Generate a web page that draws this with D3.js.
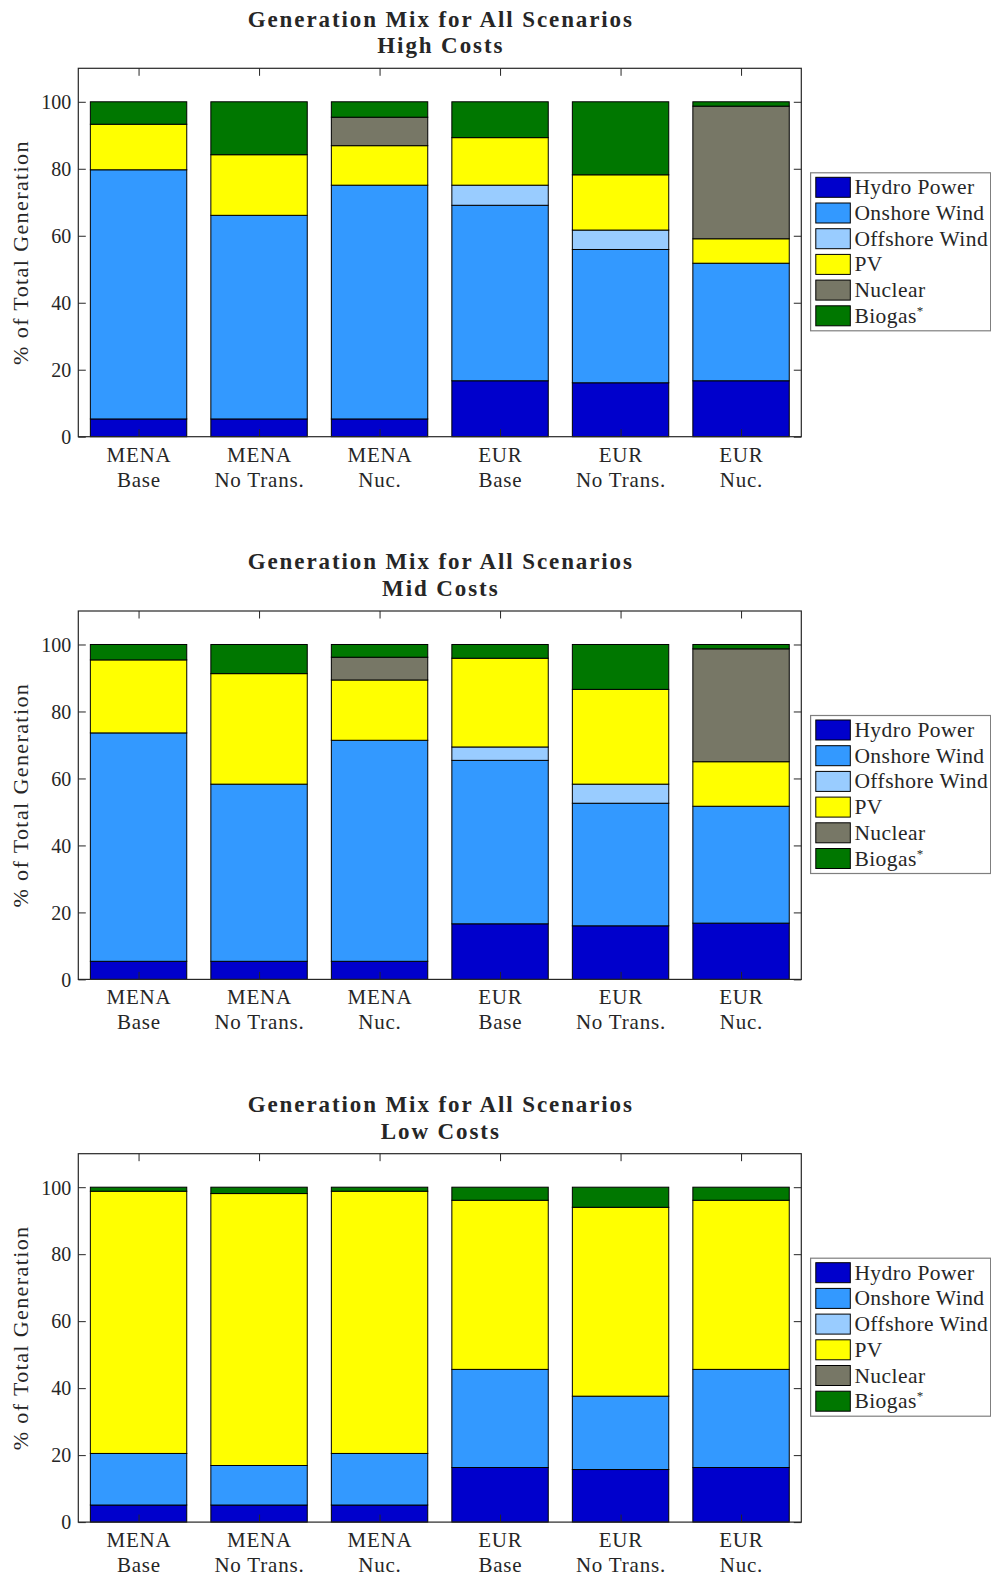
<!DOCTYPE html>
<html><head><meta charset="utf-8">
<script src="https://cdn.jsdelivr.net/npm/d3@7"></script>
<style>body{margin:0;background:#fff}svg{display:block}text{font-family:"Liberation Serif","Times New Roman",serif;fill:#262626}</style>
</head><body>
<svg id="c" width="991" height="1575"></svg>
<script>
const categories = ["MENA|Base","MENA|No Trans.","MENA|Nuc.","EUR|Base","EUR|No Trans.","EUR|Nuc."];
const technologies = ["Hydro Power","Onshore Wind","Offshore Wind","PV","Nuclear","Biogas*"];
const panelTitles = ["High Costs","Mid Costs","Low Costs"];
const yTicks = [0,20,40,60,80,100];
// values per scenario in order: Hydro, Onshore, Offshore, PV, Nuclear, Biogas
const highCosts = [
  [5.3,74.4,0,13.6,0,6.7],
  [5.3,60.8,0,18.1,0,15.8],
  [5.3,69.8,0,11.8,8.5,4.6],
  [16.7,52.4,6.0,14.2,0,10.7],
  [16.1,39.8,5.8,16.5,0,21.8],
  [16.7,35.1,0,7.3,39.6,1.3]
];
const midCosts = [
  [5.4,68.2,0,21.8,0,4.6],
  [5.4,52.9,0,33.0,0,8.7],
  [5.4,66.0,0,18.0,6.8,3.8],
  [16.6,48.8,4.0,26.5,0,4.1],
  [16.0,36.6,5.7,28.3,0,13.4],
  [16.8,34.9,0,13.3,33.7,1.3]
];
const lowCosts = [
  [5.1,15.4,0,78.3,0,1.2],
  [5.1,11.8,0,81.2,0,1.9],
  [5.1,15.4,0,78.3,0,1.2],
  [16.3,29.3,0,50.5,0,3.9],
  [15.7,21.9,0,56.4,0,6.0],
  [16.3,29.3,0,50.5,0,3.9]
];
const colors = ["#0000cc","#3399ff","#99ccff","#ffff00","#777766","#007700"];
const panels = [highCosts, midCosts, lowCosts];

const svg = d3.select("#c");
const axL = 78.3, axR = 801.3, axC = "#262626";
panels.forEach((data, k) => {
  const top = 68.3 + k*542.7, zero = top + 368.4;
  const g = svg.append("g");
  const x = d3.scaleBand().domain(categories).range([axL, axR]).paddingInner(0.2).paddingOuter(0.1);
  const xc = d3.scalePoint().domain(categories).range([axL, axR]).padding(0.5);
  const y = d3.scaleLinear().domain([0,110]).range([zero, top]);
  const rows = data.map((v,i)=>{const o={cat:categories[i]}; technologies.forEach((t,j)=>o[t]=v[j]); return o;});
  const series = d3.stack().keys(technologies)(rows);
  series.forEach((s,j)=>{
    g.append("g").selectAll("rect").data(s.filter(d=>d[1]-d[0]>0)).join("rect")
      .attr("x", d=>x(d.data.cat)).attr("width", x.bandwidth())
      .attr("y", d=>y(d[1])).attr("height", d=>y(d[0])-y(d[1]))
      .attr("fill", colors[j]).attr("stroke","#000").attr("stroke-width",1);
  });
  g.append("rect").attr("x",axL).attr("y",top).attr("width",axR-axL).attr("height",zero-top)
    .attr("fill","none").attr("stroke",axC).attr("stroke-width",1.2);
  const tl = 7.5;
  g.append("g").attr("transform",`translate(0,${zero})`)
    .call(d3.axisBottom(xc).tickSizeInner(-tl).tickSizeOuter(0).tickFormat(""))
    .call(a=>{a.select(".domain").remove(); a.selectAll("line").attr("stroke",axC);});
  g.append("g").attr("transform",`translate(0,${top})`)
    .call(d3.axisTop(xc).tickSizeInner(-tl).tickSizeOuter(0).tickFormat(""))
    .call(a=>{a.select(".domain").remove(); a.selectAll("line").attr("stroke",axC);});
  g.append("g").attr("transform",`translate(${axL},0)`)
    .call(d3.axisLeft(y).tickValues(yTicks).tickSizeInner(-tl).tickSizeOuter(0).tickPadding(7))
    .call(a=>{a.select(".domain").remove(); a.selectAll("line").attr("stroke",axC);
      a.selectAll("text").attr("font-size",20).attr("font-family","Liberation Serif").attr("fill",axC).attr("dy","0.34em");});
  g.append("g").attr("transform",`translate(${axR},0)`)
    .call(d3.axisRight(y).tickValues(yTicks).tickSizeInner(-tl).tickSizeOuter(0).tickFormat(""))
    .call(a=>{a.select(".domain").remove(); a.selectAll("line").attr("stroke",axC);});
  categories.forEach(c=>{
    const [l1,l2] = c.split("|");
    g.append("text").attr("x",xc(c)+0.4).attr("y",zero+25).attr("text-anchor","middle").attr("font-size",21).attr("letter-spacing",0.8).text(l1);
    g.append("text").attr("x",xc(c)+0.4).attr("y",zero+50).attr("text-anchor","middle").attr("font-size",21).attr("letter-spacing",0.8).text(l2);
  });
  g.append("text").attr("transform",`translate(28,${(top+zero)/2}) rotate(-90)`).attr("text-anchor","middle")
    .attr("font-size",22).attr("letter-spacing",1.4).text("% of Total Generation");
  const cx = (axL+axR)/2 + 1;
  g.append("text").attr("x",cx).attr("y",top-41.6).attr("text-anchor","middle").attr("font-size",23)
    .attr("font-weight","bold").attr("fill","#000").attr("letter-spacing",1.9).text("Generation Mix for All Scenarios");
  g.append("text").attr("x",cx).attr("y",top-15).attr("text-anchor","middle").attr("font-size",23)
    .attr("font-weight","bold").attr("fill","#000").attr("letter-spacing",1.9).text(panelTitles[k]);
  const lt = top + 104.5;
  const lg = g.append("g");
  lg.append("rect").attr("x",810.6).attr("y",lt).attr("width",180).attr("height",158)
    .attr("fill","#fff").attr("stroke","#7f7f7f").attr("stroke-width",1.2);
  technologies.forEach((t,j)=>{
    const cy = lt + 14.5 + j*25.7;
    lg.append("rect").attr("x",815.8).attr("y",cy-10).attr("width",34.5).attr("height",20)
      .attr("fill",colors[j]).attr("stroke","#000").attr("stroke-width",1);
    const tx = lg.append("text").attr("x",854.4).attr("y",cy+7).attr("font-size",21.5).attr("letter-spacing",0.45);
    if (t.endsWith("*")) { tx.text(t.slice(0,-1)); tx.append("tspan").attr("font-size",13).attr("dy",-8).text("*"); }
    else tx.text(t);
  });
});
</script>
</body></html>
